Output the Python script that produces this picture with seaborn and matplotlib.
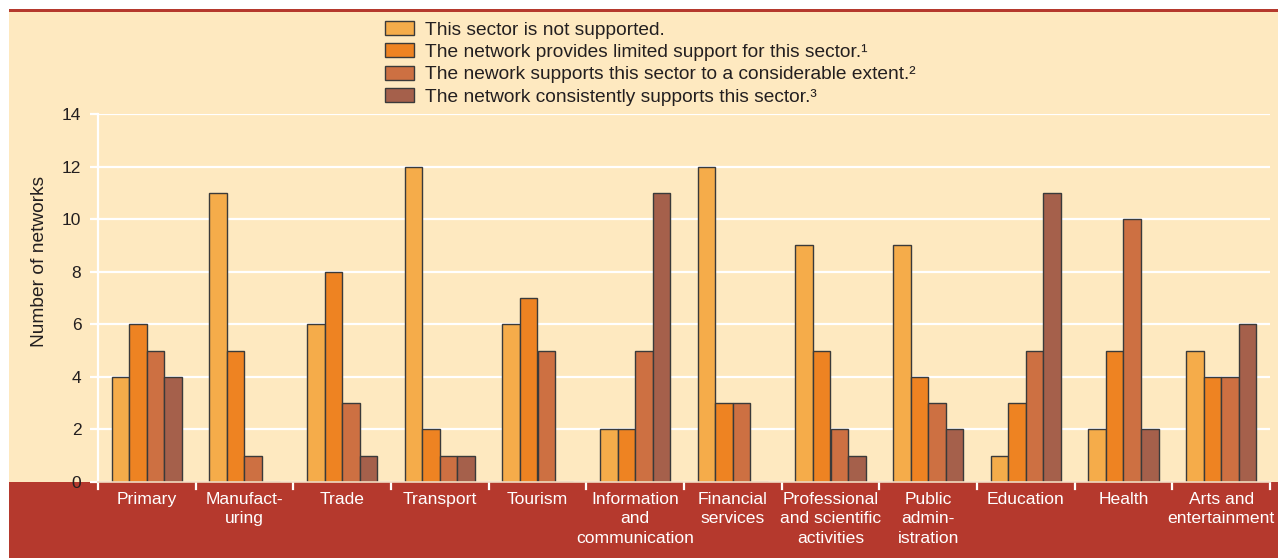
import matplotlib
matplotlib.use("Agg")
import matplotlib.pyplot as plt
from matplotlib.patches import Rectangle, Patch
import seaborn as sns
import pandas as pd

sectors = ["Primary", "Manufact-\nuring", "Trade", "Transport", "Tourism",
           "Information\nand\ncommunication", "Financial\nservices",
           "Professional\nand scientific\nactivities", "Public\nadmin-\nistration",
           "Education", "Health", "Arts and\nentertainment"]
levels = ["This sector is not supported.",
          "The network provides limited support for this sector.\u00b9",
          "The nework supports this sector to a considerable extent.\u00b2",
          "The network consistently supports this sector.\u00b3"]
not_supported = [4, 11, 6, 12, 6, 2, 12, 9, 9, 1, 2, 5]
limited = [6, 5, 8, 2, 7, 2, 3, 5, 4, 3, 5, 4]
considerable = [5, 1, 3, 1, 5, 5, 3, 2, 3, 5, 10, 4]
consistent = [4, 0, 1, 1, 0, 11, 0, 1, 2, 11, 2, 6]
yticks = [0, 2, 4, 6, 8, 10, 12, 14]

colors = ["#F5AC4A", "#EE8322", "#CD7042", "#A5604B"]
cream = "#FEE9C0"
red = "#B5392D"
ink = "#231f20"

rows = []
for lvl, vals in zip(levels, [not_supported, limited, considerable, consistent]):
    for s, v in zip(sectors, vals):
        rows.append({"sector": s, "level": lvl, "value": v})
df = pd.DataFrame(rows)

plt.rcParams["font.family"] = ["Liberation Sans", "DejaVu Sans"]
fig = plt.figure(figsize=(12.78, 5.58), dpi=100)
fig.patch.set_facecolor("white")

# page panels: cream area, red rule on top, red footer band
fig.add_artist(Rectangle((9 / 1278, 76 / 558), 1, (558 - 12 - 76) / 558,
                         transform=fig.transFigure, facecolor=cream, edgecolor="none", zorder=0))
fig.add_artist(Rectangle((9 / 1278, (558 - 12) / 558), 1, 3 / 558,
                         transform=fig.transFigure, facecolor=red, edgecolor="none", zorder=0))
fig.add_artist(Rectangle((9 / 1278, 0), 1, 76 / 558,
                         transform=fig.transFigure, facecolor=red, edgecolor="none", zorder=0))

ax = fig.add_axes([98 / 1278, 76 / 558, (1270 - 98) / 1278, (482 - 114) / 558])
ax.set_facecolor("none")

sns.barplot(data=df, x="sector", y="value", hue="level", palette=colors,
            saturation=1, width=0.72, gap=0, edgecolor="#3a3a3a", linewidth=1.0,
            ax=ax, legend=False, zorder=3)

ax.set_xlim(-0.5, len(sectors) - 0.5)
ax.set_ylim(0, 14)
ax.set_yticks(yticks)
ax.set_yticklabels([str(t) for t in yticks], fontsize=12.5, color=ink)
ax.grid(axis="y", color="white", linewidth=1.6, zorder=1)
ax.set_axisbelow(True)
ax.tick_params(axis="y", length=6, width=1.6, color="white", pad=6)
ax.set_ylabel("Number of networks", fontsize=13.8, color=ink)
ax.yaxis.set_label_coords(-0.0425, 0.6)
ax.set_xlabel("")

# sector labels in the red band, ticks at group boundaries
ax.set_xticks([i for i in range(len(sectors))])
ax.set_xticklabels(sectors, fontsize=12.6, color="white", linespacing=1.38, va="top")
ax.tick_params(axis="x", length=0, pad=7)
for b in [i - 0.5 for i in range(len(sectors) + 1)]:
    ax.plot([b, b], [0, -0.25], color="white", linewidth=1.6, clip_on=False, zorder=4)

for side in ["top", "right", "bottom"]:
    ax.spines[side].set_visible(False)
ax.spines["left"].set_color("white")
ax.spines["left"].set_linewidth(1.6)
ax.plot([-0.5, len(sectors) - 0.5], [0, 0], color="#f3dcc0", linewidth=1.2, zorder=4, clip_on=False)

handles = [Patch(facecolor=c, edgecolor="#3a3a3a", linewidth=1.0) for c in colors]
fig.legend(handles, levels, loc="upper left", bbox_to_anchor=(385 / 1278, 1 - 21 / 558),
           frameon=False, fontsize=13.8, handlelength=1.5, handleheight=0.75,
           labelspacing=0.24, handletextpad=0.6, borderaxespad=0, borderpad=0,
           labelcolor=ink)

fig.savefig("out.png", dpi=100, facecolor=fig.get_facecolor())
